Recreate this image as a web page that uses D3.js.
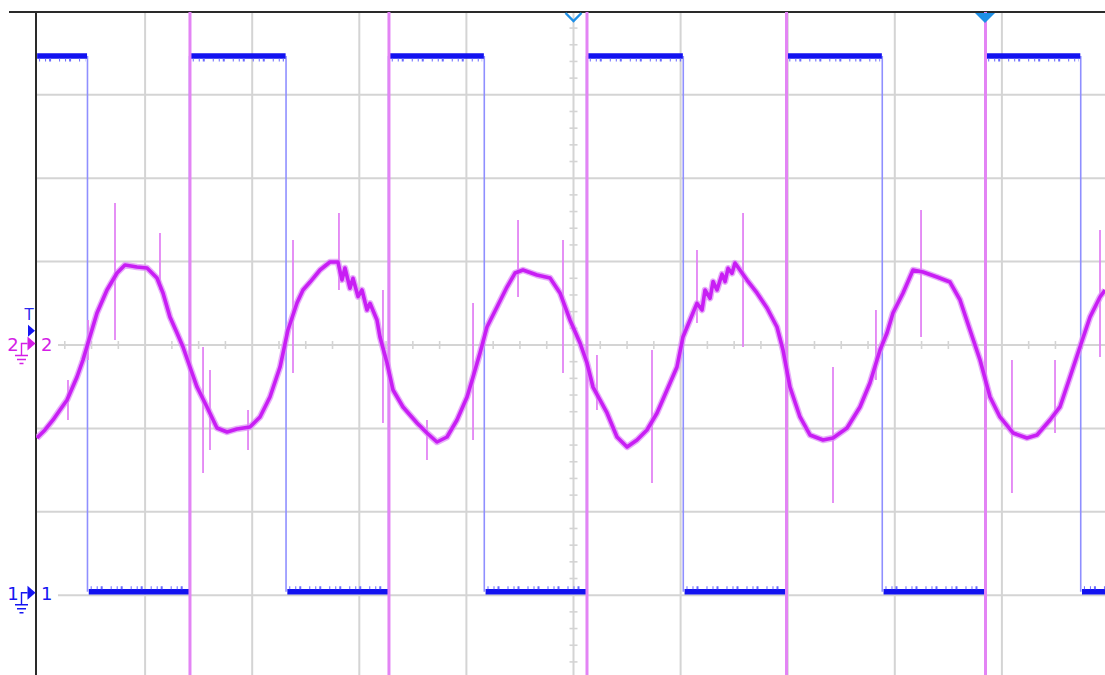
<!DOCTYPE html>
<html><head><meta charset="utf-8">
<script src="https://cdn.jsdelivr.net/npm/d3@7"></script>
<style>html,body{margin:0;padding:0;background:#fff;overflow:hidden}svg{display:block}</style>
</head><body>
<svg id="scope" width="1105" height="675"></svg>
<script>
// ---------- data (units: screen divisions) ----------
const ch1High = 3.465;
const ch1Low = -2.96;
const ch1Fall = [0.462, 2.316, 4.167, 6.025, 7.883, 9.736];
const ch1Rise = [1.415, 3.273, 5.122, 6.985, 8.842];
const ch2EdgeSpikes = [1.419, 3.277, 5.126, 6.989, 8.847];

const ch2Time = [-0.01,0.065,0.14,0.205,0.271,0.364,0.42,0.467,0.551,0.644,0.738,0.812,0.924,1.018,1.111,1.167,1.232,1.298,1.354,1.419,1.485,1.578,1.671,1.765,1.858,1.979,2.073,2.166,2.26,2.334,2.418,2.474,2.54,2.633,2.726,2.801,2.838,2.866,2.913,2.941,2.988,3.025,3.072,3.1,3.165,3.193,3.259,3.315,3.408,3.539,3.632,3.725,3.819,3.912,4.006,4.062,4.127,4.192,4.286,4.379,4.454,4.528,4.659,4.781,4.874,4.967,5.061,5.126,5.182,5.247,5.313,5.406,5.5,5.593,5.686,5.78,5.873,5.966,6.022,6.088,6.153,6.2,6.228,6.275,6.303,6.34,6.387,6.415,6.443,6.48,6.508,6.62,6.713,6.807,6.9,6.956,7.021,7.115,7.208,7.33,7.423,7.554,7.675,7.768,7.862,7.927,7.983,8.077,8.17,8.263,8.394,8.515,8.609,8.702,8.796,8.889,8.982,9.104,9.234,9.328,9.449,9.542,9.636,9.729,9.823,9.916,9.963];
const ch2Value = [-1.115,-1.019,-0.899,-0.779,-0.659,-0.384,-0.18,0.024,0.384,0.659,0.863,0.959,0.935,0.923,0.803,0.624,0.336,0.144,-0.024,-0.264,-0.504,-0.743,-0.995,-1.043,-1.007,-0.983,-0.863,-0.624,-0.264,0.18,0.504,0.659,0.755,0.899,0.995,0.995,0.78,0.923,0.68,0.8,0.58,0.66,0.42,0.5,0.3,0.096,-0.216,-0.54,-0.743,-0.935,-1.055,-1.163,-1.103,-0.899,-0.624,-0.384,-0.096,0.216,0.456,0.695,0.863,0.899,0.839,0.803,0.624,0.3,0.024,-0.216,-0.504,-0.659,-0.815,-1.103,-1.223,-1.139,-1.019,-0.815,-0.54,-0.264,0.096,0.3,0.5,0.42,0.66,0.56,0.76,0.66,0.85,0.76,0.92,0.86,0.983,0.779,0.624,0.444,0.216,-0.06,-0.504,-0.863,-1.079,-1.139,-1.115,-0.995,-0.743,-0.456,-0.06,0.144,0.384,0.624,0.899,0.875,0.815,0.755,0.54,0.18,-0.18,-0.624,-0.863,-1.055,-1.115,-1.079,-0.899,-0.743,-0.384,-0.024,0.336,0.576,0.659];

const glitchTime   = [0.719,1.139,0.28,0.467,1.541,1.606,1.961,2.381,2.81,3.221,3.632,4.062,4.482,4.902,5.219,5.733,6.153,6.583,7.423,7.824,8.245,9.094,9.496,9.916];
const glitchTop    = [1.703,1.343,-0.42,0.3,-0.024,-0.3,-0.779,1.259,1.583,0.659,-0.899,0.504,1.499,1.259,-0.12,-0.06,1.139,1.583,-0.264,0.42,1.619,-0.18,-0.18,1.379];
const glitchBottom = [0.06,0.659,-0.899,-0.18,-1.535,-1.259,-1.259,-0.336,0.659,-0.935,-1.379,-1.139,0.576,-0.336,-0.779,-1.655,0.264,-0.024,-1.894,-0.42,0.096,-1.775,-1.055,-0.144];

const ch1Ground = -3.0;
const ch2Ground = 0.0;
const trigLevel = 0.17;
const timeMarkerHollow = 5.0;
const timeMarkerFilled = 8.842;
const ch1Label = "1", ch2Label = "2", trigLabel = "T";

// ---------- scales ----------
const svg = d3.select("#scope");
const x = d3.scaleLinear().domain([0, 10]).range([38, 1109]);
const y = d3.scaleLinear().domain([-4, 4]).range([678.6, 11.4]);
const pLeft = 36, pTop = 12, pRight = 1105, pBottom = 675;

const C = {
  grid: "#d4d4d4", axis: "#2a2a2a", blue: "#1212f0", blueEdge: "#8f8fff",
  mag: "#c81ef4", magLight: "#e384f4", magLabel: "#d41ee6", marker: "#1e8fe6"
};

svg.append("rect").attr("width", 1105).attr("height", 675).attr("fill", "#fff");

svg.append("defs").append("clipPath").attr("id", "plot")
  .append("rect").attr("x", pLeft).attr("y", pTop).attr("width", pRight - pLeft).attr("height", pBottom - pTop);

// ---------- grid ----------
const g = svg.append("g");
g.selectAll("line.v").data(d3.range(1, 10)).join("line")
  .attr("x1", d => x(d)).attr("x2", d => x(d)).attr("y1", pTop).attr("y2", pBottom)
  .attr("stroke", C.grid).attr("stroke-width", 2);
g.selectAll("line.h").data(d3.range(-3, 4)).join("line")
  .attr("x1", d => (d === ch2Ground || d === ch1Ground) ? 58 : pLeft).attr("x2", pRight)
  .attr("y1", d => y(d)).attr("y2", d => y(d))
  .attr("stroke", C.grid).attr("stroke-width", 2);
const hx = d3.range(1, 40).map(i => i * 0.25).filter(d => Math.abs(d - Math.round(d)) > 1e-6);
g.selectAll("line.tx").data(hx).join("line")
  .attr("x1", d => x(d)).attr("x2", d => x(d))
  .attr("y1", y(0) - 4).attr("y2", y(0) + 4)
  .attr("stroke", C.grid).attr("stroke-width", 1.6);
const vy = d3.range(-20, 20).map(i => i * 0.2).filter(d => Math.abs(d - Math.round(d)) > 1e-6);
g.selectAll("line.ty").data(vy).join("line")
  .attr("x1", x(5) - 4).attr("x2", x(5) + 4)
  .attr("y1", d => y(d)).attr("y2", d => y(d))
  .attr("stroke", C.grid).attr("stroke-width", 1.6);

// ---------- frame ----------
svg.append("line").attr("x1", 9).attr("x2", pRight).attr("y1", pTop).attr("y2", pTop)
  .attr("stroke", C.axis).attr("stroke-width", 2);
svg.append("line").attr("x1", pLeft).attr("x2", pLeft).attr("y1", pTop).attr("y2", pBottom)
  .attr("stroke", C.axis).attr("stroke-width", 2);

const plot = svg.append("g").attr("clip-path", "url(#plot)");

// ---------- channel 1 (square wave) ----------
const edges = ch1Fall.concat(ch1Rise);
plot.selectAll("line.edge").data(edges).join("line")
  .attr("x1", d => x(d)).attr("x2", d => x(d))
  .attr("y1", y(ch1High)).attr("y2", y(ch1Low))
  .attr("stroke", C.blueEdge).attr("stroke-width", 1.6);

const segs = [];
let segStart = -0.02;
ch1Fall.forEach((f, i) => {
  segs.push({a: segStart, b: f, v: ch1High});
  const r = i < ch1Rise.length ? ch1Rise[i] : 10.2;
  segs.push({a: f, b: r, v: ch1Low});
  segStart = r;
});
const lineH = d3.line().x(d => x(d[0])).y(d => y(d[1]));
plot.selectAll("path.seg").data(segs).join("path")
  .attr("d", s => lineH([[s.a + 0.012, s.v], [s.b - 0.004, s.v]]))
  .attr("stroke", C.blue).attr("stroke-width", 5.5).attr("fill", "none");
plot.selectAll("path.segn").data(segs).join("path")
  .attr("d", s => lineH([[s.a + 0.03, s.v], [s.b - 0.02, s.v]]))
  .attr("transform", s => `translate(0,${s.v > 0 ? 4 : -4})`)
  .attr("stroke", "#6a6aff").attr("stroke-width", 3).attr("stroke-dasharray", "1,5,1,3,2,8")
  .attr("fill", "none");

// ---------- channel 2 ----------
plot.selectAll("line.spk").data(ch2EdgeSpikes).join("line")
  .attr("x1", d => x(d)).attr("x2", d => x(d)).attr("y1", pTop).attr("y2", pBottom)
  .attr("stroke", C.magLight).attr("stroke-width", 3);

plot.selectAll("line.gl").data(glitchTime.map((t, i) => [t, glitchTop[i], glitchBottom[i]])).join("line")
  .attr("x1", d => x(d[0])).attr("x2", d => x(d[0]))
  .attr("y1", d => y(d[1])).attr("y2", d => y(d[2]))
  .attr("stroke", C.magLight).attr("stroke-width", 1.8);

const pts = ch2Time.map((t, i) => [t, ch2Value[i]]);
const lineT = d3.line().x(d => x(d[0])).y(d => y(d[1]));
plot.append("path").attr("d", lineT(pts)).attr("fill", "none")
  .attr("stroke", "#dd8cf6").attr("stroke-opacity", 0.7).attr("stroke-width", 6.5).attr("stroke-linejoin", "round");
plot.append("path").attr("d", lineT(pts)).attr("fill", "none")
  .attr("stroke", C.mag).attr("stroke-width", 3.6).attr("stroke-linejoin", "round");

// ---------- markers ----------
const mk = svg.append("g");
const font = "'DejaVu Sans', 'Liberation Sans', Arial, sans-serif";
const xm1 = x(timeMarkerHollow), xm2 = x(timeMarkerFilled);
mk.append("path").attr("d", `M${xm1 - 8},${pTop + 1} L${xm1},${pTop + 9} L${xm1 + 8},${pTop + 1}`)
  .attr("fill", "none").attr("stroke", C.marker).attr("stroke-width", 2.4);
mk.append("path").attr("d", `M${xm2 - 10},${pTop + 1} L${xm2},${pTop + 11} L${xm2 + 10},${pTop + 1} Z`)
  .attr("fill", C.marker);

const yt = y(trigLevel);
mk.append("text").attr("x", 29).attr("y", yt - 11).attr("text-anchor", "middle")
  .attr("font-family", font).attr("font-size", 15).attr("fill", "#2a2aee").text(trigLabel);
mk.append("path").attr("d", `M28,${yt - 6} L35,${yt} L28,${yt + 6} Z`).attr("fill", "#1515f2");

function channelMarker(yv, color, label, dy) {
  const yc = y(yv) + dy;
  mk.append("path").attr("d", `M27.5,${yc - 7} L35.5,${yc} L27.5,${yc + 7} Z`).attr("fill", color);
  mk.append("path").attr("d", `M27.5,${yc} H21.5 V${yc + 12} M15,${yc + 12} H28 M17,${yc + 16} H26 M19.5,${yc + 20} H23.5`)
    .attr("fill", "none").attr("stroke", color).attr("stroke-width", 1.4);
  mk.append("text").attr("x", 13).attr("y", yc + 7).attr("text-anchor", "middle")
    .attr("font-family", font).attr("font-size", 18).attr("fill", color).text(label);
  mk.append("text").attr("x", 41).attr("y", yc + 7)
    .attr("font-family", font).attr("font-size", 18).attr("fill", color).text(label);
}
channelMarker(ch2Ground, C.magLabel, ch2Label, -1.5);
channelMarker(ch1Ground, "#1515f2", ch1Label, -2.5);
</script>
</body></html>
